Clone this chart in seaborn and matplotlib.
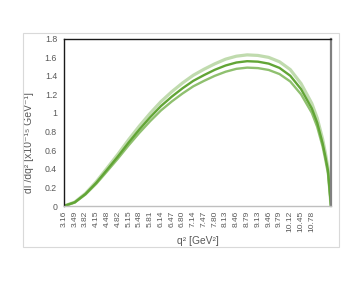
import matplotlib
matplotlib.use("Agg")
import matplotlib.pyplot as plt
import seaborn as sns
import pandas as pd
from matplotlib.patches import Rectangle

# category index positions of the data points (0..23 labelled ticks, curve ends past last label)
idx = [0, 1, 2, 3, 4, 5, 6, 7, 8, 9, 10, 11, 12, 13, 14, 15, 16, 17, 18, 19, 20,
       21, 22, 23, 23.5, 24, 24.25, 24.5, 24.78]
tick_labels = ["3.16", "3.49", "3.82", "4.15", "4.48", "4.82", "5.15", "5.48", "5.81",
               "6.14", "6.47", "6.80", "7.14", "7.47", "7.80", "8.13", "8.46", "8.79",
               "9.13", "9.46", "9.79", "10.12", "10.45", "10.78"]
upper = [0, 0.042, 0.136, 0.262, 0.408, 0.556, 0.713, 0.860, 0.997, 1.122, 1.228, 1.322,
         1.405, 1.470, 1.528, 1.578, 1.610, 1.624, 1.618, 1.597, 1.550, 1.466, 1.316, 1.102,
         0.945, 0.72, 0.575, 0.41, 0.0]
central = [0, 0.04, 0.13, 0.25, 0.39, 0.532, 0.682, 0.823, 0.954, 1.074, 1.175, 1.265,
           1.345, 1.407, 1.464, 1.510, 1.542, 1.556, 1.551, 1.530, 1.484, 1.40, 1.256,
           1.048, 0.895, 0.675, 0.535, 0.38, 0.0]
lower = [0, 0.038, 0.124, 0.239, 0.373, 0.509, 0.652, 0.787, 0.912, 1.027, 1.123, 1.209,
         1.286, 1.345, 1.399, 1.443, 1.474, 1.487, 1.482, 1.462, 1.418, 1.338, 1.200,
         1.001, 0.85, 0.64, 0.5, 0.35, 0.0]
y_ticks = [0, 0.2, 0.4, 0.6, 0.8, 1.0, 1.2, 1.4, 1.6, 1.8]
y_tick_labels = ["0", "0.2", "0.4", "0.6", "0.8", "1", "1.2", "1.4", "1.6", "1.8"]

sns.set_style("white")
plt.rcParams["font.family"] = ["Liberation Sans", "DejaVu Sans"]

fig = plt.figure(figsize=(3.63, 2.81), dpi=100)
fig.patches.append(Rectangle((23 / 363, 1 - 247 / 281), 316 / 363, 214 / 281,
                             transform=fig.transFigure, fill=False,
                             edgecolor="#d9d9d9", linewidth=0.8))
ax = fig.add_axes([64 / 363, 1 - 206 / 281, (331 - 64) / 363, (206 - 38.5) / 281])

df = pd.DataFrame({"idx": idx * 3,
                   "val": upper + central + lower,
                   "s": ["upper"] * len(idx) + ["central"] * len(idx) + ["lower"] * len(idx)})
styles = {"upper": ("#c0dbae", 2.3), "lower": ("#8fc06f", 1.7), "central": ("#62a536", 1.7)}
for name in ["upper", "lower", "central"]:
    sns.lineplot(data=df[df["s"] == name], x="idx", y="val", ax=ax,
                 color=styles[name][0], linewidth=styles[name][1], legend=False)

ax.set_xlim(0, 24.78)
ax.set_ylim(0, 1.8)
ax.set_xticks(range(len(tick_labels)))
ax.set_xticklabels(tick_labels, rotation=90, fontsize=6, color="#595959")
ax.set_yticks(y_ticks)
ax.set_yticklabels(y_tick_labels, fontsize=6.3, color="#595959")
ax.tick_params(axis="both", length=0)
ax.tick_params(axis="x", pad=3.5)
ax.tick_params(axis="y", pad=5)

ax.set_xlabel("q² [GeV²]", fontsize=7.4, color="#595959", labelpad=3)
ax.set_ylabel("dΓ/dq² [x10⁻¹⁵ GeV⁻¹]", fontsize=7.5, color="#595959")
ax.yaxis.set_label_coords(-0.112, 0.38)

for side in ["top", "left"]:
    ax.spines[side].set_color("#1a1a1a")
    ax.spines[side].set_linewidth(1.0)
ax.spines["right"].set_color("#808080")
ax.spines["right"].set_linewidth(1.6)
ax.spines["bottom"].set_color("#bfbfbf")
ax.spines["bottom"].set_linewidth(1.0)

fig.savefig("out.png", dpi=100)
